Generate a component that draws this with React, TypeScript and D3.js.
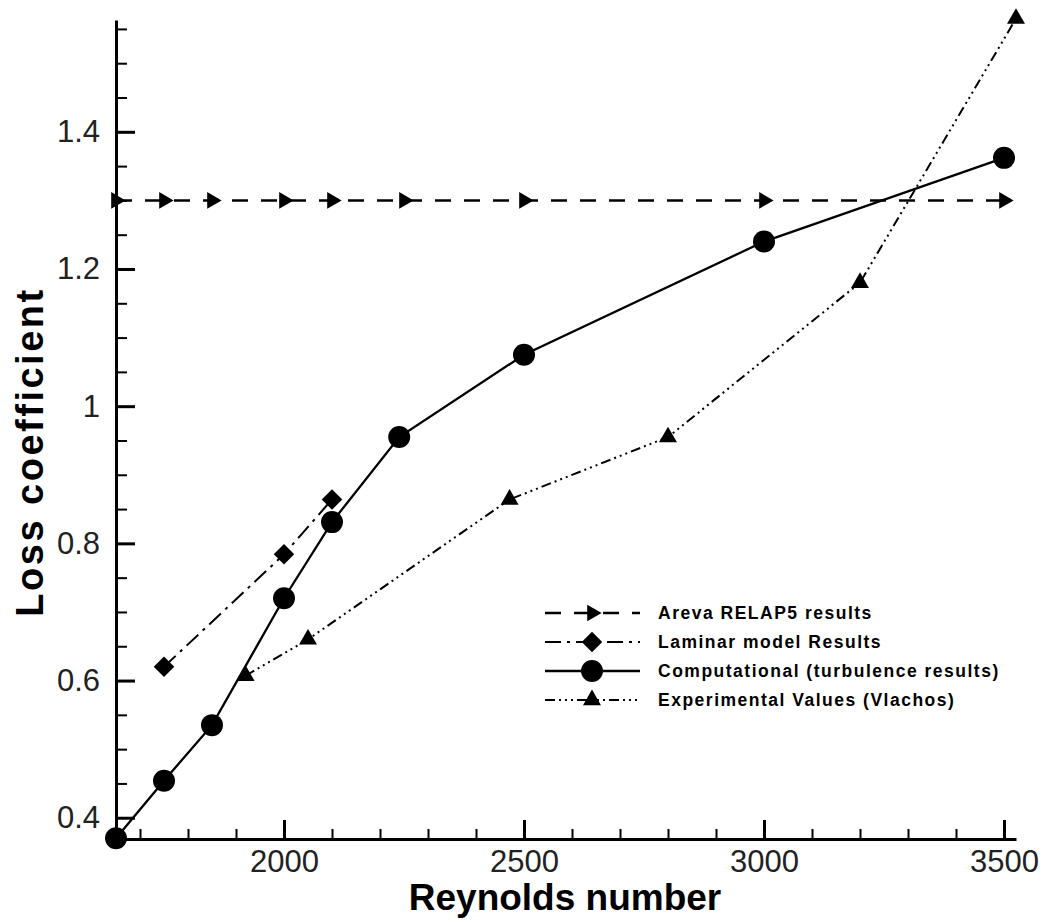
import { useEffect, useRef } from "react";
import * as d3 from "d3";

// series
const RE_RELAP = [1650, 1750, 1850, 2000, 2100, 2250, 2500, 3000, 3500];
const LOSS_RELAP = [1.3, 1.3, 1.3, 1.3, 1.3, 1.3, 1.3, 1.3, 1.3];

const RE_LAMINAR = [1750, 2000, 2100];
const LOSS_LAMINAR = [0.62, 0.784, 0.864];

const RE_COMP = [1650, 1750, 1850, 2000, 2100, 2240, 2500, 3000, 3500];
const LOSS_COMP = [0.37, 0.454, 0.535, 0.72, 0.831, 0.955, 1.075, 1.24, 1.362];

const RE_EXP = [1920, 2050, 2470, 2800, 3200, 3525];
const LOSS_EXP = [0.607, 0.66, 0.864, 0.955, 1.18, 1.565];

const X_TICKS = [2000, 2500, 3000, 3500];
const Y_TICKS = [0.4, 0.6, 0.8, 1.0, 1.2, 1.4];

const LEGEND_LABELS = [
  "Areva RELAP5 results",
  "Laminar model Results",
  "Computational (turbulence results)",
  "Experimental Values (Vlachos)",
];

const W = 1046;
const H = 921;
const FONT = "'Liberation Sans', Arial, sans-serif";

const x = d3.scaleLinear().domain([1650, 3525]).range([116, 1016]);
const y = d3.scaleLinear().domain([0.369, 1.563]).range([839, 20]);

const zip = (a: number[], b: number[]) => a.map((v, i) => [v, b[i]] as [number, number]);

const SERIES = [
  { pts: zip(RE_RELAP, LOSS_RELAP), dash: "16,13", width: 2.5, marker: "right" },
  { pts: zip(RE_LAMINAR, LOSS_LAMINAR), dash: "16,6,3,6", width: 2, marker: "diamond" },
  { pts: zip(RE_COMP, LOSS_COMP), dash: null, width: 2.3, marker: "circle" },
  { pts: zip(RE_EXP, LOSS_EXP), dash: "10,4,2,4,2,4,2,4", width: 2, marker: "triangle" },
];

const symbolPath = (kind: string) => {
  if (kind === "circle") return d3.symbol(d3.symbolCircle, 380)()!;
  if (kind === "diamond") return d3.symbol(d3.symbolSquare, 210)()!;
  return d3.symbol(d3.symbolTriangle, kind === "right" ? 120 : 140)()!;
};
const symbolRotate = (kind: string) => (kind === "diamond" ? 45 : kind === "right" ? 90 : 0);

const Marker = ({ kind, cx, cy }: { kind: string; cx: number; cy: number }) => (
  <path
    d={symbolPath(kind)}
    transform={`translate(${cx},${cy}) rotate(${symbolRotate(kind)})`}
    fill="#000"
  />
);

const App = () => {
  const xAxisRef = useRef<SVGGElement>(null);
  const yAxisRef = useRef<SVGGElement>(null);

  useEffect(() => {
    const gx = d3.select(xAxisRef.current);
    gx.selectAll("*").remove();
    const xMinor = d3.range(1700, 3501, 100).filter((v) => v % 500 !== 0);
    gx.append("g")
      .call(d3.axisBottom(x).tickValues(xMinor).tickSize(-10).tickSizeOuter(0).tickFormat(() => ""))
      .call((g) => g.selectAll("line").attr("stroke-width", 2))
      .call((g) => g.select(".domain").remove());
    gx.append("g")
      .call(d3.axisBottom(x).tickValues(X_TICKS).tickSize(-19).tickSizeOuter(0).tickPadding(11).tickFormat(d3.format("d")))
      .call((g) => g.selectAll("line").attr("stroke-width", 3))
      .call((g) => g.select(".domain").attr("stroke-width", 3))
      .call((g) => g.selectAll("text").attr("font-size", 31).attr("font-family", FONT).attr("fill", "#222"));

    const gy = d3.select(yAxisRef.current);
    gy.selectAll("*").remove();
    const yMinor = d3.range(0.45, 1.56, 0.05).filter((v) => Math.abs(v * 5 - Math.round(v * 5)) > 0.01);
    gy.append("g")
      .call(d3.axisLeft(y).tickValues(yMinor).tickSize(-11).tickSizeOuter(0).tickFormat(() => ""))
      .call((g) => g.selectAll("line").attr("stroke-width", 2))
      .call((g) => g.select(".domain").remove());
    gy.append("g")
      .call(d3.axisLeft(y).tickValues(Y_TICKS).tickSize(-19).tickSizeOuter(0).tickPadding(16).tickFormat(d3.format("~g")))
      .call((g) => g.selectAll("line").attr("stroke-width", 3))
      .call((g) => g.select(".domain").attr("stroke-width", 3))
      .call((g) => g.selectAll("text").attr("font-size", 31).attr("font-family", FONT).attr("fill", "#222"));
  }, []);

  const line = d3
    .line<[number, number]>()
    .x((d) => x(d[0]))
    .y((d) => y(d[1]));

  return (
    <svg
      width={W}
      height={H}
      style={{ position: "absolute", left: 0, top: 0, background: "#fff" }}
    >
      <g ref={xAxisRef} transform={`translate(0,${y.range()[0]})`} />
      <g ref={yAxisRef} transform={`translate(${x.range()[0]},0)`} />

      {SERIES.map((s, i) => (
        <g key={i}>
          <path
            d={line(s.pts)!}
            fill="none"
            stroke="#000"
            strokeWidth={s.width}
            strokeDasharray={s.dash ?? undefined}
          />
          {s.pts.map((p, j) => (
            <Marker key={j} kind={s.marker} cx={x(p[0])} cy={y(p[1])} />
          ))}
        </g>
      ))}

      {/* legend */}
      <g transform="translate(545,613)">
        {SERIES.map((s, i) => (
          <g key={i} transform={`translate(0,${i * 29})`}>
            <line
              x1={0}
              x2={95}
              y1={0}
              y2={0}
              stroke="#000"
              strokeWidth={s.width}
              strokeDasharray={s.dash ?? undefined}
            />
            <Marker kind={s.marker} cx={47} cy={0} />
            <text
              x={113}
              y={6}
              fontFamily={FONT}
              fontWeight="bold"
              fontSize={17.5}
              letterSpacing={1.5}
            >
              {LEGEND_LABELS[i]}
            </text>
          </g>
        ))}
      </g>

      <text
        x={565}
        y={910}
        textAnchor="middle"
        fontFamily={FONT}
        fontWeight="bold"
        fontSize={37}
      >
        Reynolds number
      </text>
      <text
        transform="translate(43,452) rotate(-90)"
        textAnchor="middle"
        fontFamily={FONT}
        fontWeight="bold"
        fontSize={38}
        letterSpacing={2.5}
      >
        Loss coefficient
      </text>
    </svg>
  );
};

export default App;
